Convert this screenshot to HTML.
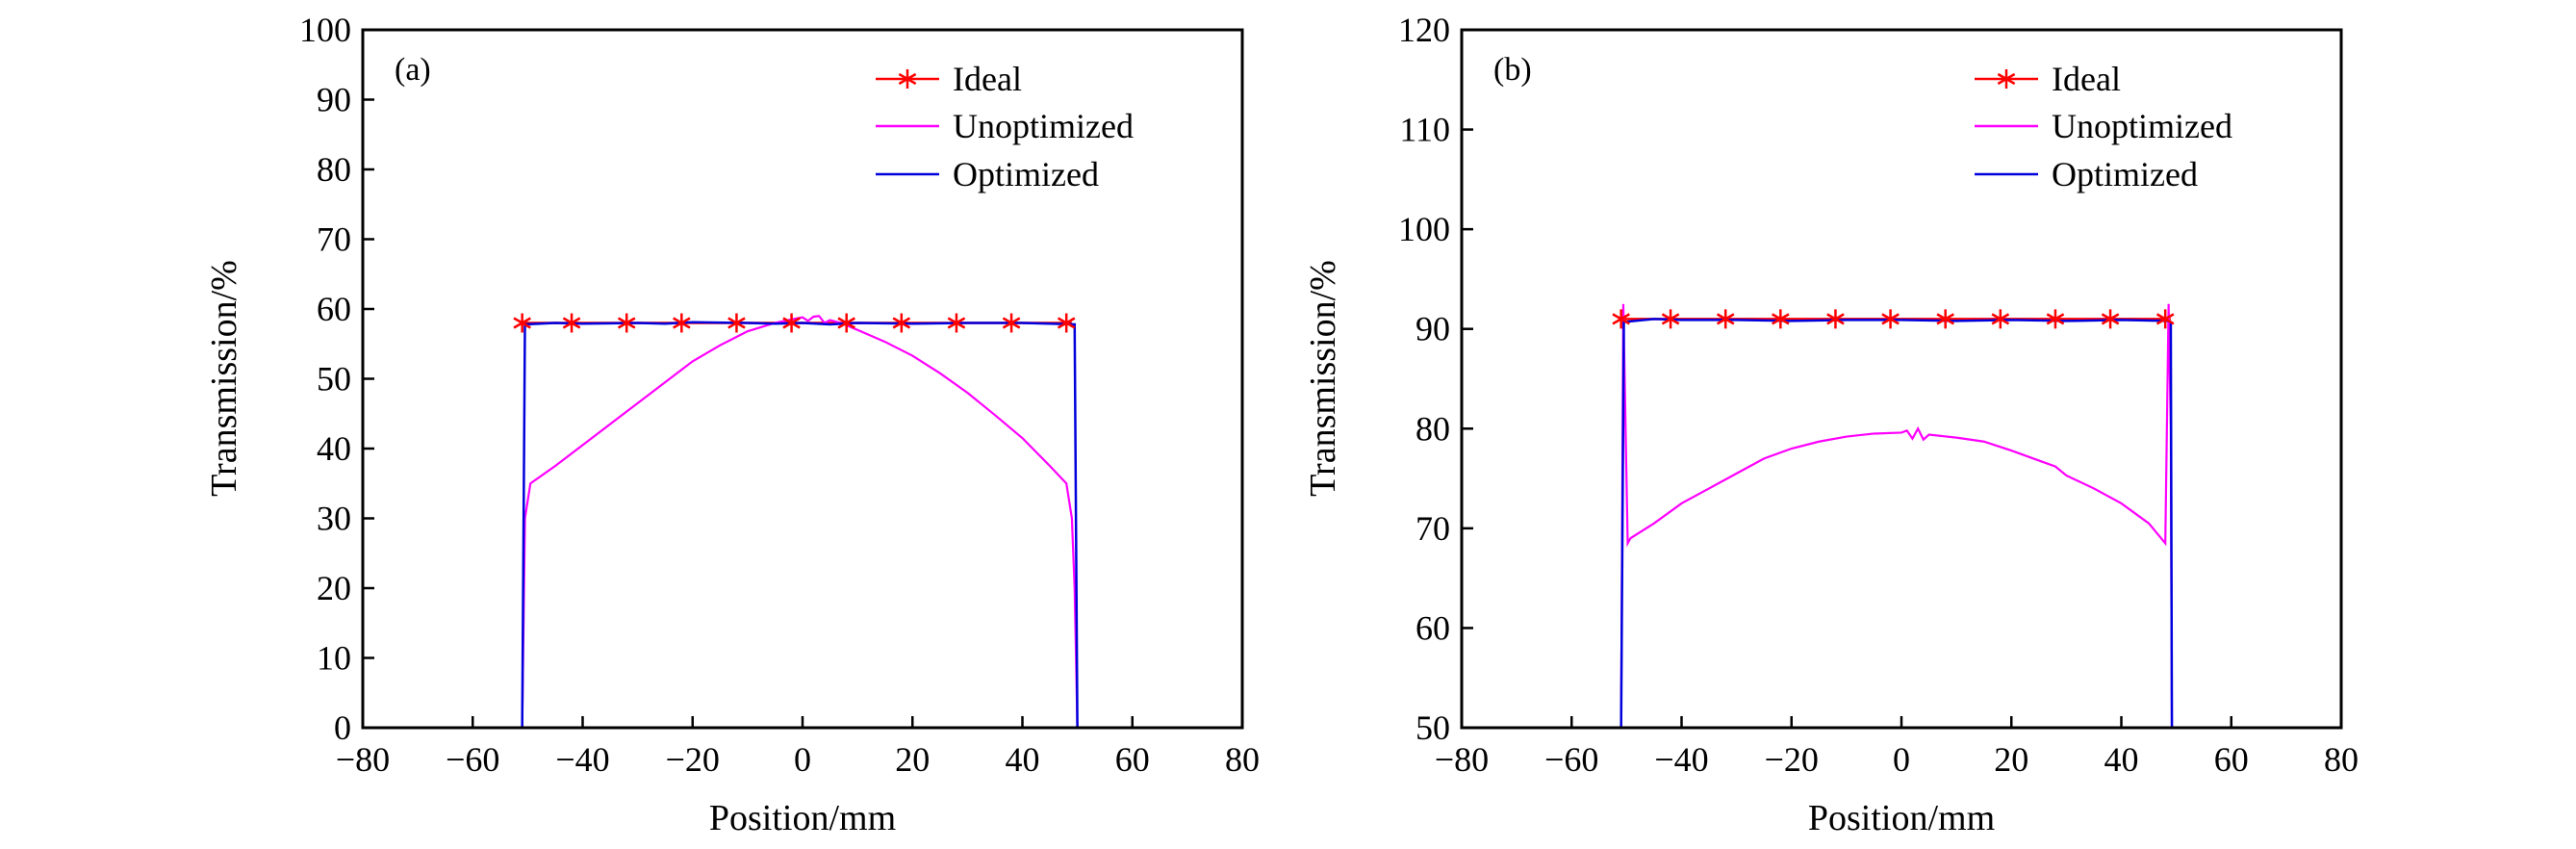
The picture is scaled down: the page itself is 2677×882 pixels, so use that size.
<!DOCTYPE html>
<html><head><meta charset="utf-8"><style>
body{margin:0;background:#fff}
svg{display:block}
text{font-family:"Liberation Serif",serif;fill:#000}
</style></head><body>
<svg id="fig" width="2677" height="882"></svg>
<script>
const xTicks=[-80,-60,-40,-20,0,20,40,60,80];
const yTicksA=[0,10,20,30,40,50,60,70,80,90,100];
const yTicksB=[50,60,70,80,90,100,110,120];
const idealX=[-51,-42,-32,-22,-12,-2,8,18,28,38,48];
const idealYA=[58,58,58,58,58,58,58,58,58,58,58];
const idealYB=[91,91,91,91,91,91,91,91,91,91,91];
const optXA=[-51,-50.5,-45,-40,-30,-25,-20,-10,-5,0,5,10,20,30,40,45,49.5,50];
const optYA=[0,57.8,58,57.9,58,57.9,58.1,58,57.9,58,57.8,58,57.9,58,58,57.9,57.8,0];
const unoXA=[-51,-50.5,-49.5,-45,-40,-35,-30,-25,-20,-15,-10,-5,-2,0,1,2,3,4,5,7,10,15,20,25,30,35,40,45,48,49,49.5,50];
const unoYA=[0,30,35,37.5,40.5,43.5,46.5,49.5,52.5,54.8,56.8,58,58.5,58.8,58.3,58.9,59,58,58.4,58,57,55.3,53.3,50.8,48,44.8,41.5,37.5,35,30,20,0];
const optXB=[-51,-50.5,-45,-40,-30,-20,-10,0,10,20,30,40,48.5,49,49.2];
const optYB=[50,90.7,91,90.9,90.9,90.8,90.9,90.9,90.8,90.9,90.8,90.9,90.8,90.7,50];
const unoXB=[-51,-50.6,-49.8,-49.3,-45,-40,-35,-30,-25,-20,-15,-10,-5,0,1,2,3,4,5,10,15,20,25,28,30,35,40,45,48,48.6,49,49.2];
const unoYB=[50,92.5,68.5,69,70.5,72.5,74,75.5,77,78,78.7,79.2,79.5,79.6,79.8,79,80,78.9,79.4,79.1,78.7,77.8,76.8,76.2,75.3,74,72.5,70.5,68.5,92.5,80,50];

const svg=document.getElementById('fig');
const NS='http://www.w3.org/2000/svg';
function mk(tag,attrs,parent){const e=document.createElementNS(NS,tag);for(const k in attrs)e.setAttribute(k,attrs[k]);(parent||svg).appendChild(e);return e;}
function star(cx,cy,parent){
  const s=mk('g',{stroke:'#ff0000','stroke-width':2.5},parent);
  const r=10;
  [[0,r],[r*0.866,r*0.5],[r*0.866,-r*0.5]].forEach(([dx,dy])=>mk('line',{x1:cx-dx,y1:cy-dy,x2:cx+dx,y2:cy+dy},s));
  return s;
}

function panel(L,label,yTicks,ymin,ymax,iy,ox,oy,ux,uy,legX,name){
  const T=31,B=756,W=914;
  const g=mk('g',{});
  
  
  const sx=v=>L+(v+80)/160*W;
  const sy=v=>B-(v-ymin)/(ymax-ymin)*(B-T);
  const clip='clip-'+name;
  const cp=mk('clipPath',{id:clip},g);mk('rect',{x:L,y:T,width:W,height:B-T},cp);
  xTicks.forEach(t=>{
    const ln=mk('line',{x1:sx(t),x2:sx(t),y1:B,y2:B-12,stroke:'#000','stroke-width':2.5},g);
    
    
    const tx=mk('text',{x:sx(t),y:801,'font-size':36,'text-anchor':'middle'},g);
    tx.textContent=t<0?'\u2212'+(-t):String(t);
    
    
  });
  yTicks.forEach(t=>{
    const ln=mk('line',{x1:L,x2:L+12,y1:sy(t),y2:sy(t),stroke:'#000','stroke-width':2.5},g);
    
    
    const tx=mk('text',{x:L-12,y:sy(t)+12,'font-size':36,'text-anchor':'end'},g);
    tx.textContent=String(t);
    
    
  });
  const pts=(xs,ys)=>xs.map((x,i)=>sx(x)+','+sy(ys[i])).join(' ');
  const pi=mk('polyline',{points:pts([idealX[0],49],[iy[0],iy[0]]),fill:'none',stroke:'#ff0000','stroke-width':2.5,'clip-path':'url(#'+clip+')'},g);
  
  
  const pu=mk('polyline',{points:pts(ux,uy),fill:'none',stroke:'#ff00ff','stroke-width':2.2,'clip-path':'url(#'+clip+')'},g);
  
  
  const po=mk('polyline',{points:pts(ox,oy),fill:'none',stroke:'#0000dd','stroke-width':2.5,'clip-path':'url(#'+clip+')'},g);
  
  
  idealX.forEach((x,i)=>{
    const m=star(sx(x),sy(iy[i]),g);
    
    
  });
  const fr=mk('rect',{x:L,y:T,width:W,height:B-T,fill:'none',stroke:'#000','stroke-width':3},g);
  
  
  const pl=mk('text',{x:L+33,y:83,'font-size':34},g);pl.textContent=label;
  
  
  const xt=mk('text',{x:L+W/2,y:862,'font-size':38,'text-anchor':'middle'},g);xt.textContent='Position/mm';
  
  
  const yt=mk('text',{x:0,y:0,'font-size':38,'text-anchor':'middle',transform:`translate(${L-132},393) rotate(-90)`},g);yt.textContent='Transmission/%';
  
  
  const items=[['Ideal','#ff0000',82],['Unoptimized','#ff00ff',131],['Optimized','#0000dd',181]];
  items.forEach(([t,c,y])=>{
    const lg=mk('g',{},g);
    
    
    mk('line',{x1:legX,x2:legX+66,y1:y,y2:y,stroke:c,'stroke-width':2.5},lg);
    if(t==='Ideal'){star(legX+33,y,lg);}
    const tx=mk('text',{x:legX+80,y:y+12,'font-size':36},lg);tx.textContent=t;
  });
}
panel(377,'(a)',yTicksA,0,100,idealYA,optXA,optYA,unoXA,unoYA,910,'panel-a');
panel(1519,'(b)',yTicksB,50,120,idealYB,optXB,optYB,unoXB,unoYB,2052,'panel-b');
</script>
</body></html>
